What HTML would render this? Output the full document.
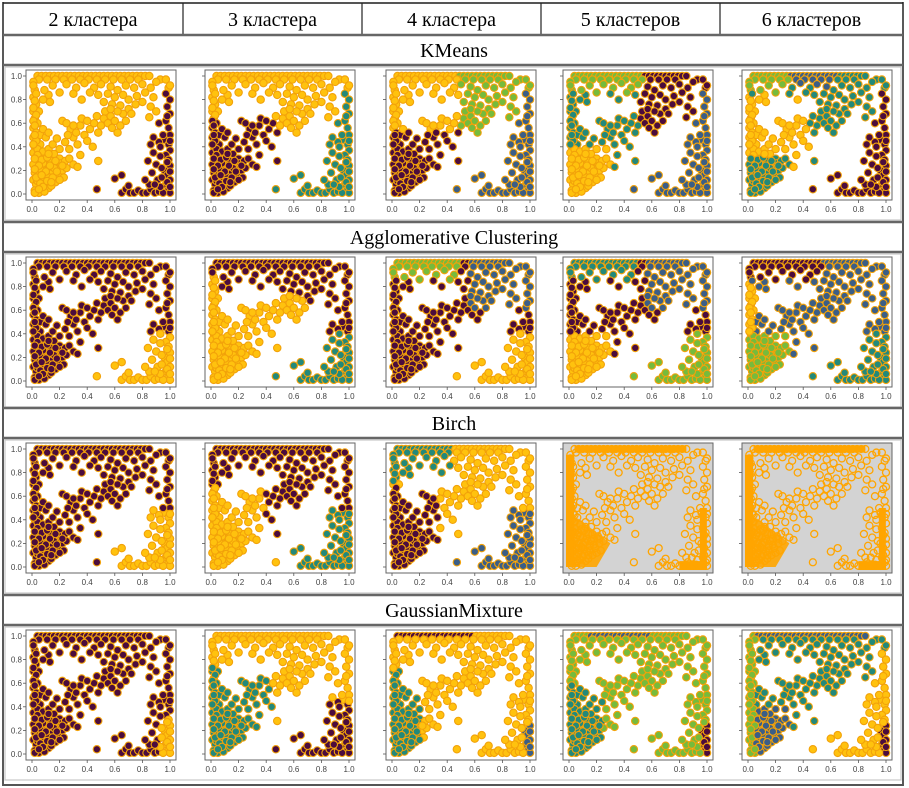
<!DOCTYPE html>
<html><head><meta charset="utf-8"><style>
html,body{margin:0;padding:0;background:#fff;}
svg{display:block;}
</style></head><body>
<svg id="root" width="909" height="788" viewBox="0 0 909 788" xmlns="http://www.w3.org/2000/svg" font-family="'Liberation Serif', serif"></svg>
<script>
const NS='http://www.w3.org/2000/svg';
const root=document.getElementById('root');
const columnTitles=['2 кластера','3 кластера','4 кластера','5 кластеров','6 кластеров'];
const methods=['KMeans','Agglomerative Clustering','Birch','GaussianMixture'];
const tickValues=[0,0.2,0.4,0.6,0.8,1.0];
const tickLabels=['0.0','0.2','0.4','0.6','0.8','1.0'];
const pointsX=[];
const pointsY=[];
const topBandX=[0.04,0.07,0.1,0.13,0.16,0.19,0.22,0.25,0.28,0.31,0.34,0.37,0.4,0.43,0.46,0.49,0.52,0.55,0.58,0.61,0.64,0.67,0.7,0.73,0.76,0.79,0.82,0.85];
const topBand2X=[0.05,0.11,0.17,0.23,0.29,0.35,0.41,0.47,0.53,0.59,0.65,0.71,0.77,0.93,0.97];
const scatterPts=[[0.15,0.92],[0.25,0.93],[0.32,0.9],[0.38,0.94],[0.45,0.9],[0.5,0.93],[0.57,0.91],[0.62,0.88],[0.68,0.92],[0.74,0.9],[0.8,0.93],[0.86,0.9],[0.9,0.95],[0.2,0.86],[0.3,0.85],[0.42,0.86],[0.48,0.84],[0.55,0.85],[0.6,0.82],[0.66,0.84],[0.7,0.8],[0.76,0.83],[0.82,0.86],[0.88,0.82],[0.12,0.84],[0.36,0.8],[0.52,0.78],[0.58,0.76],[0.64,0.75],[0.7,0.72],[0.75,0.76],[0.8,0.78],[0.86,0.74],[0.9,0.7],[0.66,0.68],[0.72,0.68],[0.62,0.7],[0.13,0.78],[0.09,0.88],[0.85,0.65],[0.92,0.6],
[0.01,0.95],[0.02,0.88],[0.01,0.82],[0.03,0.76],[0.01,0.7],[0.02,0.64],[0.04,0.6],[0.01,0.56],[0.03,0.52],[0.01,0.48],[0.04,0.44],[0.02,0.4],[0.06,0.5],[0.06,0.42],[0.08,0.55],[0.1,0.48],[0.12,0.52],[0.08,0.8],[0.05,0.7],
[0.01,0.35],[0.03,0.3],[0.01,0.25],[0.04,0.22],[0.02,0.18],[0.01,0.12],[0.03,0.08],[0.02,0.03],[0.05,0.01],[0.06,0.05],[0.07,0.12],[0.05,0.16],[0.07,0.2],[0.06,0.27],[0.09,0.32],[0.1,0.25],[0.09,0.17],[0.1,0.09],[0.12,0.05],[0.13,0.13],[0.12,0.21],[0.14,0.28],[0.16,0.34],[0.15,0.18],[0.17,0.1],[0.18,0.24],[0.2,0.3],[0.19,0.16],[0.22,0.2],[0.21,0.26],[0.24,0.28],[0.25,0.22],[0.27,0.3],[0.23,0.14],[0.3,0.25],[0.33,0.23],[0.04,0.38],[0.08,0.36],[0.12,0.38],[0.15,0.42],[0.02,0.01],[0.09,0.02],[0.14,0.07],[0.04,0.11],[0.11,0.15],[0.16,0.22],[0.2,0.12],[0.08,0.26],
[0.04,0.33],[0.07,0.29],[0.11,0.31],[0.13,0.24],[0.17,0.28],[0.06,0.09],[0.08,0.06],[0.11,0.11],[0.15,0.14],[0.18,0.19],[0.03,0.14],[0.05,0.24],[0.1,0.19],[0.14,0.1],[0.07,0.16],[0.02,0.21],[0.22,0.24],[0.12,0.34],[0.02,0.3],[0.05,0.04],
[0.01,0.92],[0.03,0.85],[0.02,0.79],[0.01,0.73],[0.03,0.67],[0.01,0.62],[0.02,0.58],[0.03,0.45],[0.01,0.42],[0.02,0.5],
[0.2,0.38],[0.24,0.44],[0.27,0.38],[0.3,0.48],[0.33,0.42],[0.28,0.55],[0.32,0.52],[0.35,0.58],[0.38,0.5],[0.4,0.45],[0.42,0.55],[0.22,0.62],[0.18,0.47],[0.45,0.6],[0.48,0.52],[0.5,0.58],[0.52,0.64],[0.55,0.6],[0.57,0.66],[0.6,0.62],[0.53,0.7],[0.47,0.66],[0.35,0.33],[0.44,0.4],[0.58,0.56],[0.62,0.52],[0.26,0.5],[0.36,0.64],[0.64,0.58],[0.68,0.62],[0.4,0.62],[0.57,0.72],
[0.99,0.9],[0.97,0.85],[1,0.8],[0.98,0.74],[1,0.68],[0.97,0.62],[0.99,0.56],[1,0.5],[0.96,0.46],[0.99,0.42],[1,0.37],[0.97,0.33],[0.99,0.29],[1,0.24],[0.96,0.2],[0.98,0.16],[1,0.12],[0.97,0.08],[0.99,0.04],[1,0.01],[0.95,0.5],
[1,0.92],[0.98,0.66],[1,0.45],[0.98,0.27],[1,0.19],[0.98,0.1],[1,0.06],
[0.65,0.01],[0.68,0.04],[0.71,0.01],[0.74,0.01],[0.77,0.03],[0.8,0.01],[0.83,0.01],[0.86,0.04],[0.89,0.01],[0.92,0.02],[0.95,0.01],[0.7,0.07],[0.85,0.08],[0.93,0.06],
[0.84,0.28],[0.88,0.35],[0.9,0.25],[0.93,0.32],[0.87,0.18],[0.91,0.12],[0.94,0.22],[0.86,0.42],[0.92,0.44],[0.89,0.08],[0.94,0.14],[0.82,0.12],[0.88,0.48],[0.93,0.4],
[0.47,0.04],[0.6,0.13],[0.65,0.16],[0.48,0.28],[0.25,0.6],[0.3,0.58]];
topBandX.forEach(x=>{pointsX.push(x);pointsY.push(1.0);});
topBand2X.forEach(x=>{pointsX.push(x);pointsY.push(0.97);});
scatterPts.forEach(p=>{pointsX.push(p[0]);pointsY.push(p[1]);});

const COL={Y:'#ffc20e',M:'#4b0c3d',T:'#23897a',G:'#76bb3c',S:'#3b5e87'};
const BR=(x,y)=>(x>0.45&&y<x-0.3)||(x>0.94&&y<0.9);
const BRlow=(x,y)=>BR(x,y)&&y<0.42;
const Tri=(x,y)=>x<0.33&&y<0.4;
const rules=[
 [ (x,y)=>BR(x,y)?'M':'Y',
   (x,y)=>BR(x,y)?'T':(x<0.5&&y<0.66)?'M':'Y',
   (x,y)=>BR(x,y)?'S':(x<0.5&&y<0.55)?'M':((x>0.48&&y>0.5)||(x>0.55&&y>0.45))?'G':'Y',
   (x,y)=>(y>0.85&&x<0.55)?'G':Tri(x,y)?'Y':BR(x,y)?'S':(x>0.5&&y>0.5)?'M':'T',
   (x,y)=>BR(x,y)?'M':(y>0.9&&x>=0.3&&x<0.65)?'S':(y>0.85&&x<0.3)?'G':(Tri(x,y)&&y<0.33)?'T':(x<0.45&&y<0.85)?'Y':'T' ],
 [ (x,y)=>BRlow(x,y)?'Y':'M',
   (x,y)=>BRlow(x,y)?'T':((x<0.7&&y<0.75&&!BR(x,y))||(x<0.06&&y<0.9))?'Y':'M',
   (x,y)=>BRlow(x,y)?'Y':(x<0.5&&y>0.85)?'G':(x>0.55&&y>0.6)?'S':'M',
   (x,y)=>BRlow(x,y)?'G':Tri(x,y)?'Y':(x<0.5&&y>0.85)?'T':(x>0.55&&y>0.6)?'S':'M',
   (x,y)=>BRlow(x,y)?'T':Tri(x,y)?'G':(x<0.06&&y<0.85)?'Y':(x<0.55&&y>0.85)?'M':'S' ],
 [ (x,y)=>(BR(x,y)&&y<0.5&&x>0.55)?'Y':'M',
   (x,y)=>(BR(x,y)&&y<0.5&&x>0.55)?'T':(x<0.4&&y<0.68)||(x<0.5&&y<0.1)?'Y':'M',
   (x,y)=>(BR(x,y)&&y<0.5)?'S':(x<0.35&&y<0.68)?'M':(x<0.45&&y>0.7)?'T':'Y',
   null,null ],
 [ (x,y)=>(x>0.92&&y<0.3)?'Y':'M',
   (x,y)=>(BR(x,y)&&y<0.45)?'M':(x<0.45&&y<0.75)?'T':'Y',
   (x,y)=>(x>0.95&&y<0.25)?'S':(x<0.22&&y<0.72)?'T':(y>0.97&&x<0.6)?'M':'Y',
   (x,y)=>(x>0.95&&y<0.25)?'M':(x<0.25&&y<0.6)?'T':(y>0.97&&x>0.15&&x<0.6)?'S':'G',
   (x,y)=>(x>0.95&&y<0.25)?'M':BR(x,y)?'Y':x<0.06?'G':(y>0.97)?'S':Tri(x,y)?'S':'T' ]
];

function el(tag,attrs,parent){const e=document.createElementNS(NS,tag);for(const k in attrs)e.setAttribute(k,attrs[k]);(parent||root).appendChild(e);return e;}

const colX=[3,183,362,541,720,903];
const sectionTops=[35,222,408,595];
let g=el('g',{});


el('line',{x1:3,y1:3,x2:903,y2:3,stroke:'#555','stroke-width':2},g);
el('line',{x1:3,y1:2,x2:3,y2:786,stroke:'#222','stroke-width':1.5},g);
el('line',{x1:903,y1:2,x2:903,y2:786,stroke:'#222','stroke-width':1.5},g);
el('line',{x1:3,y1:785,x2:903,y2:785,stroke:'#555','stroke-width':2},g);
for(let i=1;i<5;i++) el('line',{x1:colX[i],y1:3,x2:colX[i],y2:35,stroke:'#222','stroke-width':1.2},g);
columnTitles.forEach((t,i)=>{
  const tx=el('text',{x:(colX[i]+colX[i+1])/2,y:26,'text-anchor':'middle','font-size':20,fill:'#000'});
  tx.textContent=t;
  
  
});

const axLeft=[26,205,386,563,742];
const axW=150, axH=130;
function drawPanel(r,c,top){
  const L=axLeft[c];
  const pg=el('g',{});
  
  
  const hollow=(r===2&&c>=3);
  el('rect',{x:L,y:top,width:axW,height:axH,fill:hollow?'#d3d3d3':'#fff',stroke:'#666','stroke-width':1},pg);
  const sx=v=>L+6+v*(axW-12);
  const sy=v=>top+axH-6-v*(axH-12);
  tickValues.forEach((v,i)=>{
    el('line',{x1:sx(v),y1:top+axH,x2:sx(v),y2:top+axH+3,stroke:'#555','stroke-width':0.8},pg);
    const t=el('text',{x:sx(v),y:top+axH+12,'text-anchor':'middle','font-size':8,fill:'#444','font-family':'Liberation Sans, sans-serif'},pg);
    t.textContent=tickLabels[i];
    el('line',{x1:L-3,y1:sy(v),x2:L,y2:sy(v),stroke:'#555','stroke-width':0.8},pg);
    if(c===0){
      const ty=el('text',{x:L-4,y:sy(v)+3,'text-anchor':'end','font-size':8,fill:'#444','font-family':'Liberation Sans, sans-serif'},pg);
      ty.textContent=tickLabels[i];
    }
  });
  const rule=rules[r][c];
  if(hollow){
    el('path',{d:`M${sx(0)} ${sy(0)} L${sx(0)} ${sy(0.45)} L${sx(0.08)} ${sy(0.4)} L${sx(0.3)} ${sy(0.2)} L${sx(0.2)} ${sy(0)} Z`,fill:'#ffa500',opacity:0.9},pg);
    el('rect',{x:sx(0.04),y:sy(1.0)-3,width:sx(0.85)-sx(0.04),height:6,fill:'#ffa500'},pg);
    el('rect',{x:sx(0)-3,y:sy(0.95),width:8,height:sy(0)-sy(0.95),fill:'#ffa500'},pg);
    el('rect',{x:sx(0.97)-3,y:sy(0.5),width:7,height:sy(0)-sy(0.5),fill:'#ffa500'},pg);
    el('rect',{x:sx(0.8),y:sy(0.05),width:sx(1)-sx(0.8),height:sy(0)-sy(0.05)+3,fill:'#ffa500'},pg);
  }
  for(let k=0;k<pointsX.length;k++){
    const x=pointsX[k],y=pointsY[k];
    const cx=sx(x),cy=sy(y);
    if(hollow){
      el('circle',{cx:cx,cy:cy,r:3.5,fill:'none',stroke:'#ffa500','stroke-width':1.3},pg);
    } else {
      el('circle',{cx:cx,cy:cy,r:3.7,fill:COL[rule(x,y)],stroke:'#f2a20a','stroke-width':1.1},pg);
    }
  }
}

sectionTops.forEach((s,r)=>{
  el('line',{x1:3,y1:s,x2:903,y2:s,stroke:'#666','stroke-width':2.5});
  el('line',{x1:3,y1:s+30,x2:903,y2:s+30,stroke:'#666','stroke-width':2.5});
  const t=el('text',{x:454,y:s+22,'text-anchor':'middle','font-size':20,fill:'#000'});
  t.textContent=methods[r];
  
  
  el('rect',{x:5,y:s+32,width:896,height:153,fill:'none',stroke:'#c8c8c8','stroke-width':1.2});
  const top=s+35;
  for(let c=0;c<5;c++) drawPanel(r,c,top);
});
</script>
</body></html>
